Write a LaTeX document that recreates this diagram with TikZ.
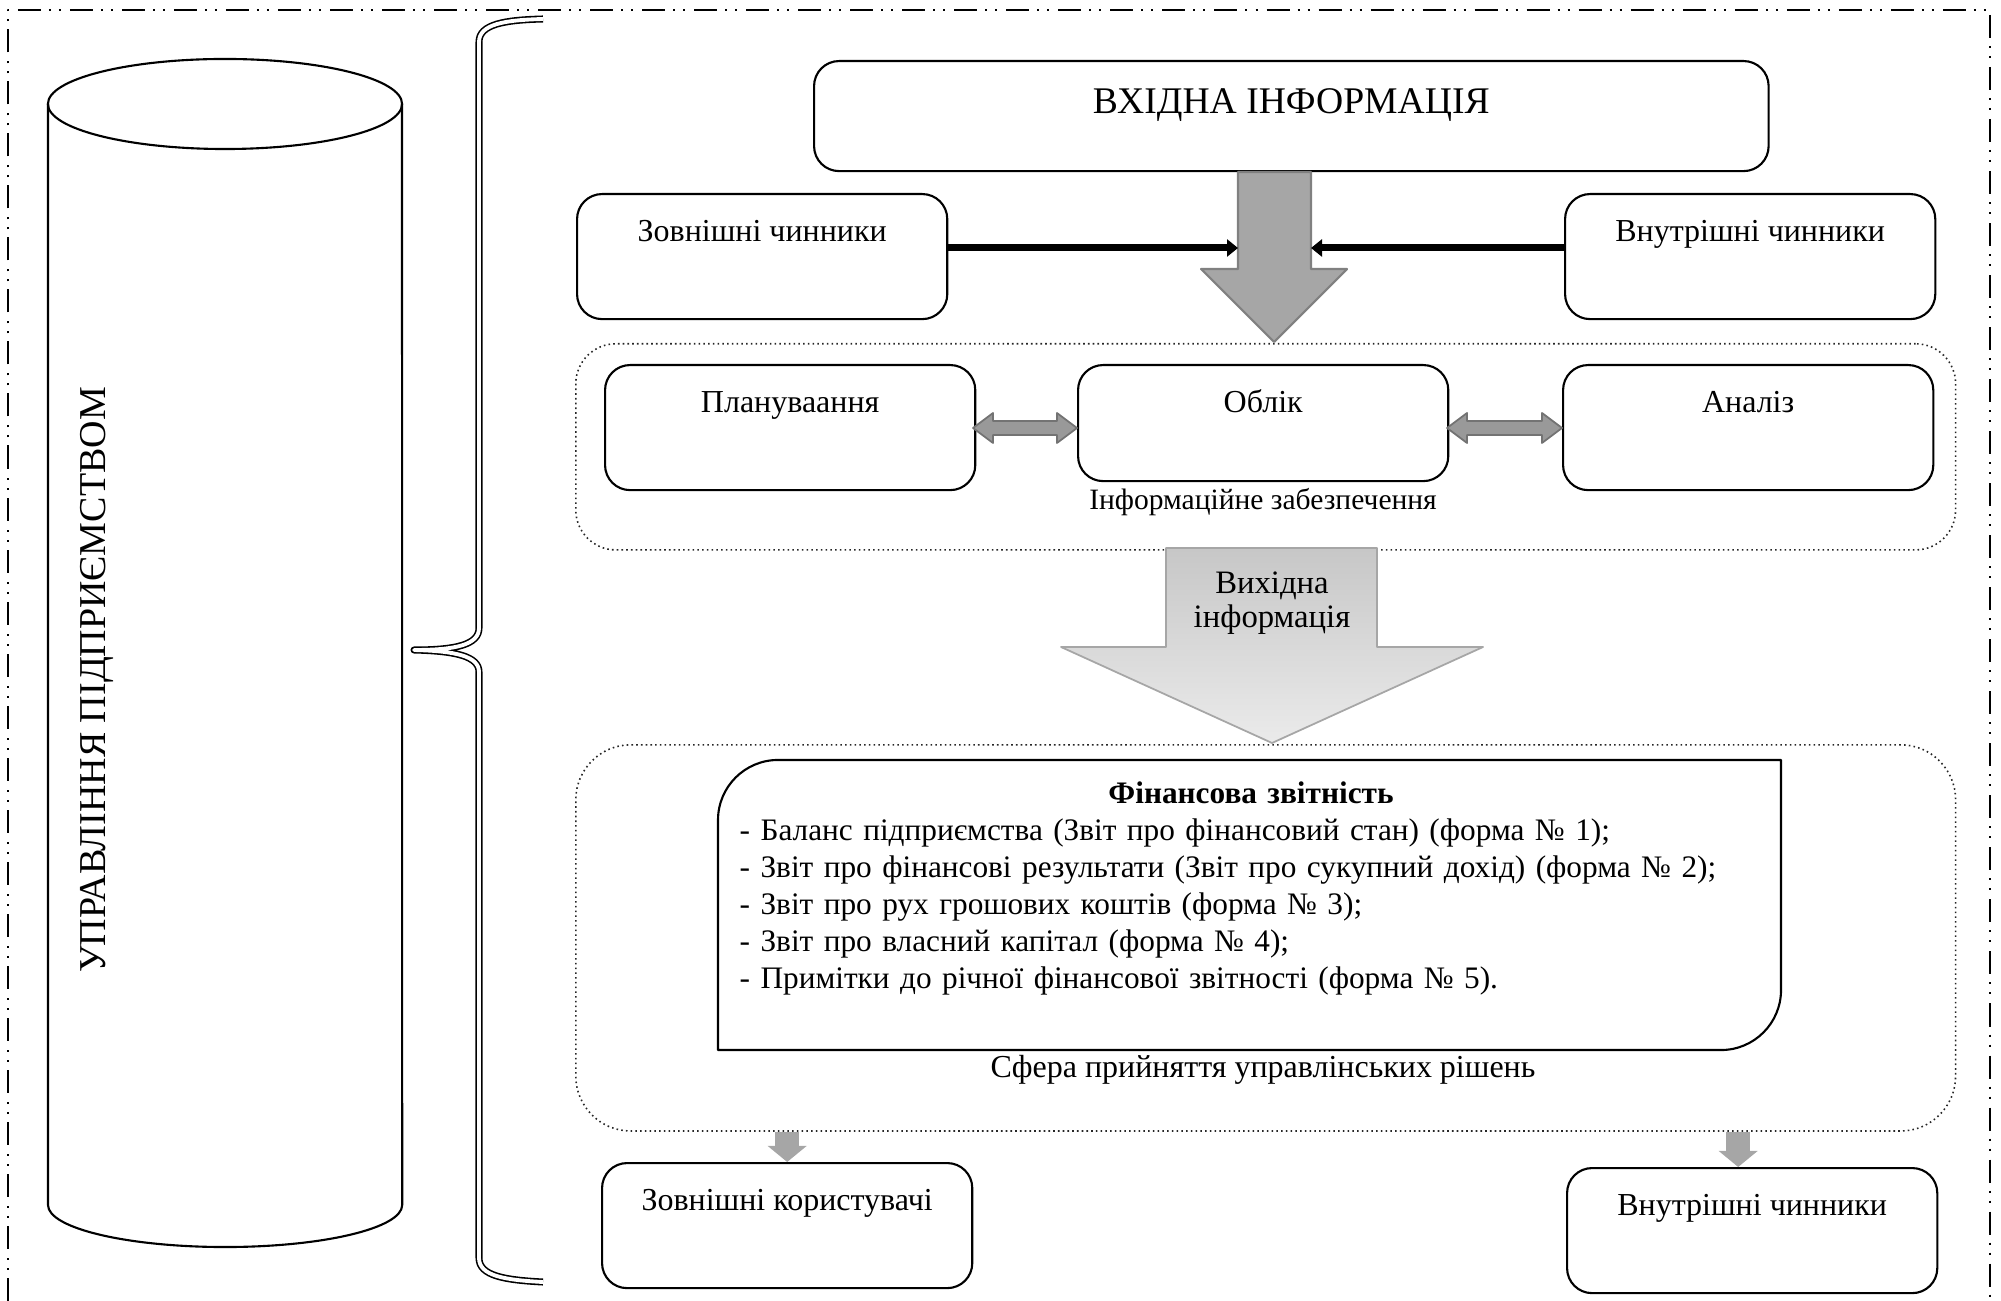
\documentclass[tikz,border=0pt]{standalone}
\usepackage{fontspec}
\setmainfont{Liberation Serif}
\usetikzlibrary{arrows.meta}

\tikzset{
  frame/.style={line width=0.6pt, dash pattern=on 0.23cm off 0.08cm on 0.02cm off 0.08cm on 0.02cm off 0.09cm},
  cyl/.style={line width=0.6pt},
  brace/.style={line width=0.45pt, double, double distance=1.1pt},
  box/.style={draw, line width=0.6pt, rounded corners=0.25cm, anchor=north west, inner sep=0pt,
    minimum width=3.7cm, text height=0.47cm, text depth=0.78cm, font=\fontsize{9.1}{11}\selectfont},
  area/.style={draw=black!85, line width=0.45pt, dash pattern=on 0.45pt off 0.9pt, anchor=north west,
    inner sep=0pt, minimum width=13.79cm},
  lbl/.style={anchor=base, font=\fontsize{8.4}{11}\selectfont},
  bigarr/.style={fill=black!35, draw=black!50, line width=0.6pt},
  outarr/.style={top color=black!22, bottom color=black!8, draw=black!35, line width=0.5pt},
  grarr/.style={fill=black!40, draw=black!55, line width=0.5pt},
  blkarr/.style={line width=0.07cm, -{Triangle[length=0.11cm, width=0.17cm]}},
  smarr/.style={draw=black!35, line width=0.24cm, -{Triangle[length=0.16cm, width=0.38cm]}},
}

\begin{document}
\begin{tikzpicture}[x=0.01cm, y=-0.01cm, line join=round]
\useasboundingbox (0,0) rectangle (2001,1301);
% outer frame
\draw[frame] (8,1301) -- (8,10) -- (1990,10) -- (1990,1301);

% cylinder
\draw[cyl] (48,104) -- (48,1205) arc[start angle=180, end angle=360, x radius=1.77cm, y radius=0.42cm] -- (402,104);
\draw[cyl] (225,104) ellipse [x radius=1.77cm, y radius=0.45cm];
\node[rotate=90, anchor=base, font=\fontsize{10.8}{13}\selectfont] (upr) at (105,680) {УПРАВЛІННЯ ПІДПРИЄМСТВОМ};

% brace
\draw[brace] (543,19) .. controls (505,20) and (479,24) .. (479,42) -- (479,628)
  .. controls (479,645) and (455,650) .. (414,650) .. controls (455,651) and (479,656) .. (479,672)
  -- (479,1258) .. controls (479,1276) and (505,1280) .. (543,1282);

% dotted areas
\node[area, rounded corners=0.4cm, minimum height=2.06cm] (info) at (575,343) {};
\node[area, rounded corners=0.55cm, minimum height=3.86cm] (sfera) at (575,744) {};
\node[lbl] (infolbl) at (1263,510) {Інформаційне забезпечення};
\node[lbl, font=\fontsize{9.1}{11}\selectfont] (sferalbl) at (1263,1077) {Сфера прийняття управлінських рішень};

% boxes
\node[box, minimum width=9.54cm, text height=0.52cm, text depth=0.58cm, font=\fontsize{10.7}{13}\selectfont] (vhid) at (813,60) {ВХІДНА ІНФОРМАЦІЯ};
\node[box] (zch) at (576,193) {Зовнішні чинники};
\node[box] (vch) at (1564,193) {Внутрішні чинники};
\node[box] (plan) at (604,364) {Плануваання};
\node[box, text depth=0.69cm] (oblik) at (1077,364) {Облік};
\node[box] (analiz) at (1562,364) {Аналіз};
\node[box] (zkor) at (601,1162) {Зовнішні користувачі};
\node[box] (vkor) at (1566,1167) {Внутрішні чинники};

% input arrow
\draw[bigarr] (1238,172) -- (1311,172) -- (1311,269) -- (1347,269) -- (1274,342) -- (1201,269) -- (1238,269) -- cycle;
\coordinate (shL) at (1238,248);
\coordinate (shR) at (1311,248);
\draw[blkarr] (zch.east |- shL) -- (shL);
\draw[blkarr] (vch.west |- shR) -- (shR);

% double arrows
\draw[grarr] (973,428) -- (993,413) -- (993,421) -- (1057,421) -- (1057,413) -- (1077,428)
  -- (1057,443) -- (1057,435) -- (993,435) -- (993,443) -- cycle;
\draw[grarr] (1447,428) -- (1467,413) -- (1467,421) -- (1542,421) -- (1542,413) -- (1562,428)
  -- (1542,443) -- (1542,435) -- (1467,435) -- (1467,443) -- cycle;

% output arrow
\draw[outarr] (1166,548) -- (1377,548) -- (1377,647) -- (1483,647) -- (1272,743) -- (1061,647) -- (1166,647) -- cycle;
\node[align=center, font=\fontsize{9.3}{9.7}\selectfont] (vyh) at (1272,603) {Вихідна\\інформація};

% financial statements
\draw[line width=0.6pt] (718,1050) -- (718,820) arc[start angle=180, end angle=90, radius=0.6cm]
  -- (1781,760) -- (1781,990) arc[start angle=0, end angle=-90, radius=0.6cm] -- cycle;
\node[anchor=north west, inner sep=0pt, text width=10.22cm, align=left, font=\fontsize{8.9}{10.5}\selectfont] (fin) at (739,781)
  {\makebox[\hsize]{\textbf{Фінансова звітність}}\\
   - Баланс підприємства (Звіт про фінансовий стан) (форма № 1);\\
   - Звіт про фінансові результати (Звіт про сукупний дохід) (форма № 2);\\
   - Звіт про рух грошових коштів (форма № 3);\\
   - Звіт про власний капітал (форма № 4);\\
   - Примітки до річної фінансової звітності (форма № 5).};

% users
\draw[smarr] (zkor.north |- sfera.south) -- (zkor.north);
\draw[smarr] ([xshift=-0.14cm]vkor.north |- sfera.south) -- ([xshift=-0.14cm]vkor.north);
\end{tikzpicture}
\end{document}
